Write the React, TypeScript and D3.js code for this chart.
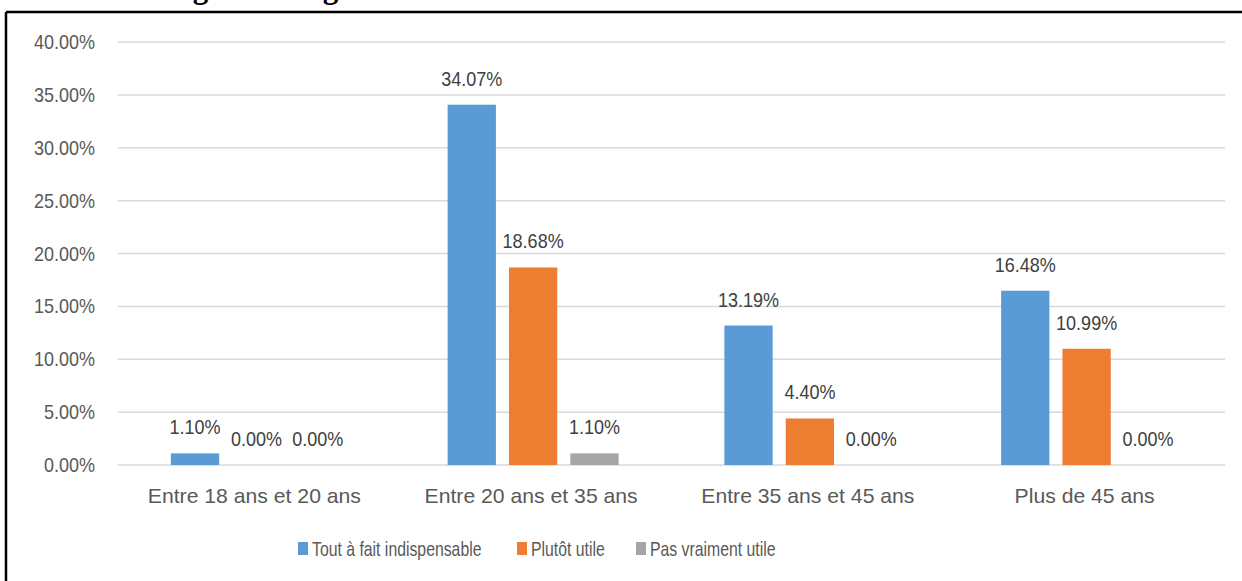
import React from "react";
import * as d3 from "d3";

const categories = [
  "Entre 18 ans et 20 ans",
  "Entre 20 ans et 35 ans",
  "Entre 35 ans et 45 ans",
  "Plus de 45 ans",
];
const seriesNames = ["Tout à fait indispensable", "Plutôt utile", "Pas vraiment utile"];
const toutAFait = [1.1, 34.07, 13.19, 16.48];
const plutotUtile = [0.0, 18.68, 4.4, 10.99];
const pasVraiment = [0.0, 1.1, 0.0, 0.0];
const seriesValues = [toutAFait, plutotUtile, pasVraiment];
const seriesColors = ["#5b9bd5", "#ed7d31", "#a5a5a5"];
const yTicks = [0, 5, 10, 15, 20, 25, 30, 35, 40];
const titleText = "L'âge et le degré d'utilité";

const W = 1242;
const H = 581;
const FONT = "'Liberation Sans', Arial, sans-serif";

function SText({ x, y, sx, anchor, fill, size, children }: any) {
  return (
    <text
      transform={`translate(${x},${y}) scale(${sx},1)`}
      textAnchor={anchor}
      fill={fill}
      fontSize={size}
      fontFamily={FONT}
    >
      {children}
    </text>
  );
}

export default function App() {
  const x0 = d3.scaleBand<string>().domain(categories).range([118, 1225]).padding(0);
  const x1 = d3
    .scaleBand<string>()
    .domain(seriesNames)
    .range([-85.5, 85.5])
    .paddingInner(0.213)
    .paddingOuter(0);
  const y = d3.scaleLinear().domain([0, 40]).range([465, 42]);
  const fmt = (v: number) => d3.format(".2f")(v) + "%";

  const legendX = [298, 517, 636];

  return (
    <svg
      width={W}
      height={H}
      style={{ position: "absolute", left: 0, top: 0, background: "#fff" }}
    >
      <rect x={0} y={0} width={W} height={H} fill="#fff" />
      {/* cut-off title */}
      <text
        x={148}
        y={-2}
        fontFamily="'Liberation Serif', 'Times New Roman', serif"
        fontWeight="bold"
        fontSize={31}
        fill="#000"
      >
        {titleText}
      </text>
      {/* frame */}
      <line x1={6} y1={12} x2={W} y2={12} stroke="#000" strokeWidth={2.5} />
      <line x1={6} y1={12} x2={6} y2={H} stroke="#000" strokeWidth={2.5} />

      {/* gridlines */}
      {yTicks.map((t) => (
        <line
          key={"g" + t}
          x1={118}
          x2={1225}
          y1={y(t)}
          y2={y(t)}
          stroke="#d9d9d9"
          strokeWidth={1.5}
        />
      ))}
      {/* y tick labels */}
      {yTicks.map((t) => (
        <SText key={"t" + t} x={95} y={y(t) + 7} sx={0.9} anchor="end" fill="#595959" size={20}>
          {fmt(t)}
        </SText>
      ))}

      {/* bars */}
      {categories.map((c, ci) => {
        const cx = (x0(c) as number) + x0.bandwidth() / 2;
        return (
          <g key={c}>
            {seriesNames.map((s, si) => {
              const v = seriesValues[si][ci];
              const bx = cx + (x1(s) as number);
              const top = y(v);
              return (
                <g key={s}>
                  <rect
                    x={bx}
                    y={top}
                    width={x1.bandwidth()}
                    height={y(0) - top}
                    fill={seriesColors[si]}
                  />
                  <SText
                    x={bx + x1.bandwidth() / 2}
                    y={top - 19}
                    sx={0.9}
                    anchor="middle"
                    fill="#404040"
                    size={20}
                  >
                    {fmt(v)}
                  </SText>
                </g>
              );
            })}
            <SText x={cx - 2} y={503} sx={1.06} anchor="middle" fill="#595959" size={20}>
              {c}
            </SText>
          </g>
        );
      })}

      {/* legend */}
      {seriesNames.map((s, si) => (
        <g key={"l" + s}>
          <rect x={legendX[si]} y={542} width={10} height={13} fill={seriesColors[si]} />
          <SText x={legendX[si] + 14} y={556} sx={0.79} anchor="start" fill="#595959" size={20}>
            {s}
          </SText>
        </g>
      ))}
    </svg>
  );
}
